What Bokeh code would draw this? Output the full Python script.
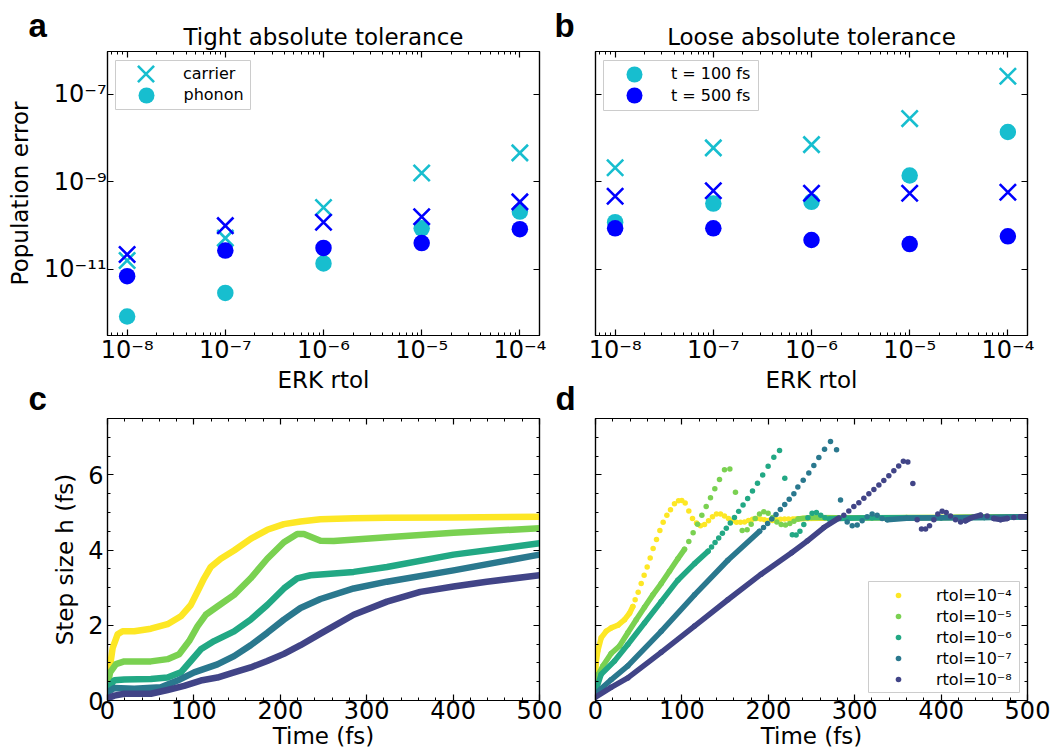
from bokeh.embed import file_html
from bokeh.layouts import column, row
from bokeh.models import (BoxAnnotation, CustomJSTickFormatter, FixedTicker, Legend,
                          LegendItem, LinearAxis, LogAxis, Range1d, SingleIntervalTicker, Title)
from bokeh.plotting import figure
from bokeh.resources import INLINE

# ------------------------------------------------------------------ data
RTOL = [1e-8, 1e-7, 1e-6, 1e-5, 1e-4]
RTOL_LABELS = ["10⁻⁸", "10⁻⁷", "10⁻⁶", "10⁻⁵", "10⁻⁴"]
ERROR_TICKS = [1e-11, 1e-9, 1e-7]
ERROR_LABELS = ["10⁻¹¹", "10⁻⁹", "10⁻⁷"]

# population error, tight absolute tolerance
TIGHT_CARRIER_100 = [1.6e-11, 5.2e-11, 2.6e-10, 1.6e-9, 4.6e-9]
TIGHT_PHONON_100 = [8.4e-13, 2.9e-12, 1.37e-11, 8.7e-11, 2.1e-10]
TIGHT_CARRIER_500 = [2.2e-11, 1.0e-10, 1.2e-10, 1.6e-10, 3.5e-10]
TIGHT_PHONON_500 = [7.0e-12, 2.7e-11, 3.1e-11, 4.0e-11, 8.3e-11]

# population error, loose absolute tolerance
LOOSE_CARRIER_100 = [2.1e-9, 6.0e-9, 7.1e-9, 2.8e-8, 2.6e-7]
LOOSE_PHONON_100 = [1.2e-10, 3.2e-10, 3.5e-10, 1.4e-9, 1.38e-8]
LOOSE_CARRIER_500 = [4.7e-10, 6.3e-10, 5.5e-10, 5.5e-10, 5.8e-10]
LOOSE_PHONON_500 = [8.7e-11, 8.7e-11, 4.7e-11, 3.8e-11, 5.7e-11]

STEP_LABELS = ["rtol=10⁻⁴", "rtol=10⁻⁵", "rtol=10⁻⁶", "rtol=10⁻⁷", "rtol=10⁻⁸"]

# step size h (fs) against time (fs), first integrator
C_T_4 = [0, 2.5, 6.0, 11.7, 17.5, 31.0, 50.2, 69.5, 84.9, 96.4, 104.1, 111.8, 119.5, 131.1,
         146.5, 165.7, 184.9, 204.2, 223.4, 246.5, 285.0, 323.5, 400.5, 500]
C_H_4 = [0.40, 0.85, 1.40, 1.76, 1.84, 1.84, 1.91, 2.03, 2.24, 2.54, 2.89, 3.25, 3.55, 3.77,
         3.99, 4.30, 4.54, 4.69, 4.76, 4.82, 4.85, 4.86, 4.87, 4.89]
C_T_5 = [0, 3.0, 9.8, 19.4, 50.2, 69.5, 82.9, 94.5, 104.1, 113.7, 127.2, 146.5, 165.7, 184.9,
         204.2, 219.6, 227.3, 246.5, 261.9, 323.5, 400.5, 500]
C_H_5 = [0.40, 0.75, 0.97, 1.04, 1.04, 1.10, 1.23, 1.58, 1.97, 2.28, 2.50, 2.81, 3.25, 3.77,
         4.21, 4.43, 4.43, 4.25, 4.24, 4.34, 4.46, 4.58]
C_T_6 = [0, 7.9, 19.4, 50.2, 69.5, 84.9, 96.4, 108.0, 123.4, 146.5, 165.7, 184.9, 204.2, 219.6,
         234.9, 246.5, 285.0, 323.5, 400.5, 500]
C_H_6 = [0.30, 0.54, 0.56, 0.57, 0.61, 0.75, 1.05, 1.36, 1.58, 1.84, 2.15, 2.54, 2.98, 3.25,
         3.33, 3.35, 3.42, 3.55, 3.88, 4.18]
C_T_7 = [0, 7.9, 31.0, 61.8, 81.0, 100.3, 127.2, 146.5, 165.7, 184.9, 204.2, 223.4, 246.5,
         285.0, 323.5, 400.5, 500]
C_H_7 = [0.22, 0.33, 0.31, 0.35, 0.53, 0.75, 0.96, 1.18, 1.47, 1.80, 2.15, 2.46, 2.70, 2.98,
         3.16, 3.46, 3.88]
C_T_8 = [0, 7.9, 19.4, 50.2, 69.5, 88.7, 108.0, 127.2, 146.5, 165.7, 184.9, 204.2, 223.4,
         246.5, 285.0, 323.5, 362.0, 400.5, 439.0, 500]
C_H_8 = [0.06, 0.13, 0.18, 0.18, 0.28, 0.39, 0.53, 0.61, 0.75, 0.88, 1.05, 1.24, 1.47, 1.78,
         2.28, 2.63, 2.89, 3.03, 3.16, 3.33]

# step size h (fs) against time (fs), second integrator
D_T_4 = [0, 0.8, 2.7, 6.6, 12.3, 18.1, 25.8, 33.6, 39.4, 43.2, 45.9, 49.4, 52.9, 56.3, 59.8,
         63.3, 66.7, 70.6, 74.5, 78.3, 82.6, 86.8, 91.4, 96.1, 99.9, 103.8, 108.0, 112.3, 116.9,
         121.5, 126.2, 130.8, 135.4, 140.0, 144.7, 149.3, 153.9, 158.6, 163.2, 167.8, 172.5,
         177.1, 181.7, 186.3, 191.0, 195.6, 200.2, 204.9, 209.5, 214.1, 218.8, 223.4, 228.0,
         240, 260, 280, 300, 350, 400, 450, 500]
D_H_4 = [0.44, 1.00, 1.32, 1.67, 1.84, 1.93, 2.00, 2.15, 2.32, 2.50, 2.68, 2.88, 3.11, 3.33,
         3.55, 3.79, 4.04, 4.28, 4.52, 4.74, 4.93, 5.07, 5.23, 5.31, 5.32, 5.25, 5.04, 4.84,
         4.72, 4.65, 4.68, 4.78, 4.89, 4.96, 4.96, 4.91, 4.84, 4.78, 4.74, 4.74, 4.75, 4.79,
         4.82, 4.84, 4.83, 4.81, 4.79, 4.79, 4.81, 4.82, 4.83, 4.83, 4.82, 4.84, 4.85, 4.85,
         4.86, 4.86, 4.87, 4.88, 4.89]
D_T_5 = [0, 3.5, 8.5, 18.1, 27.8, 37.4, 47.1, 56.7, 66.4, 76.0, 85.6, 95.3, 103.0, 108.0,
         113.0, 118.1, 123.1, 128.1, 133.1, 138.1, 143.5, 149.3, 155.5, 162.0, 169.8, 175.5,
         180.2, 184.8, 189.8, 194.8, 199.8, 204.9, 209.9, 214.9, 219.9, 224.9, 229.7, 234.5,
         250, 280, 320, 360, 400, 450, 500]
D_H_5 = [0.31, 0.70, 0.92, 1.25, 1.45, 1.80, 2.15, 2.48, 2.81, 3.11, 3.44, 3.77, 4.02, 4.23,
         4.46, 4.69, 4.93, 5.16, 5.39, 5.63, 5.88, 6.14, 6.16, 5.54, 4.52, 4.54, 4.69, 4.84,
         4.96, 5.02, 4.98, 4.87, 4.75, 4.68, 4.67, 4.71, 4.77, 4.83, 4.87, 4.86, 4.86, 4.87,
         4.87, 4.88, 4.89]
D_T_6 = [0, 6.6, 22.0, 37.4, 56.7, 76.0, 95.3, 114.6, 130.3, 134.3, 138.4, 142.6, 146.9, 151.4,
         156.0, 160.8, 165.7, 170.8, 176.1, 181.7, 187.5, 193.5, 199.8, 206.4, 213.0, 219.1,
         227.8, 232.2, 236.6, 241.1, 245.8, 250.7, 255.7, 260.7, 265.6, 270.5, 290, 320, 360,
         400, 450, 500]
D_H_6 = [0.22, 0.70, 1.05, 1.49, 2.06, 2.63, 3.20, 3.64, 3.97, 4.08, 4.20, 4.32, 4.45, 4.58,
         4.72, 4.87, 5.03, 5.20, 5.37, 5.57, 5.78, 6.00, 6.23, 6.47, 6.65, 5.91, 4.41, 4.40,
         4.50, 4.68, 4.86, 4.98, 5.00, 4.93, 4.86, 4.83, 4.85, 4.86, 4.86, 4.86, 4.87, 4.88]
D_T_7 = [0, 18.0, 37.4, 76.0, 114.6, 153.2, 189.9, 194.5, 199.2, 204.0, 208.9, 213.9, 219.0,
         224.2, 229.6, 234.2, 240.4, 246.9, 252.7, 258.5, 265.1, 272.0, 279.0, 283.6, 291.3,
         297.1, 302.9, 308.6, 314.4, 320.2, 326.0, 331.8, 337.6, 360, 400, 450, 500]
D_H_7 = [0.18, 0.55, 0.92, 1.84, 2.81, 3.73, 4.50, 4.60, 4.71, 4.83, 4.95, 5.08, 5.21, 5.35,
         5.50, 5.68, 5.86, 6.05, 6.25, 6.46, 6.68, 6.89, 6.67, 5.33, 4.75, 4.65, 4.67, 4.78,
         4.89, 4.96, 4.93, 4.84, 4.81, 4.85, 4.86, 4.87, 4.88]
D_T_8 = [0, 18.1, 37.4, 76.0, 114.6, 153.2, 191.7, 227.0, 245.0, 264.3, 281.5, 287.4, 293.2,
         299.0, 304.8, 310.6, 316.4, 322.2, 328.0, 333.7, 339.5, 345.3, 350.9, 356.3, 361.5,
         367.3, 372.3, 377.3, 382.0, 386.6, 391.6, 396.2, 401.2, 405.9, 410.9, 416.7, 422.5,
         428.2, 436.0, 445.6, 453.3, 461.0, 468.8, 476.5, 484.2, 491.9, 500]
D_H_8 = [0.09, 0.35, 0.60, 1.28, 1.98, 2.68, 3.36, 3.93, 4.24, 4.60, 4.85, 4.93, 5.04, 5.16,
         5.26, 5.38, 5.50, 5.61, 5.73, 5.85, 5.98, 6.11, 6.24, 6.36, 6.34, 5.77, 4.81, 4.56,
         4.56, 4.65, 4.81, 4.96, 5.03, 5.00, 4.91, 4.81, 4.75, 4.78, 4.87, 4.93, 4.91, 4.84,
         4.81, 4.84, 4.87, 4.89, 4.89]

# ------------------------------------------------------------------ style
FONT = "DejaVu Sans"
LETTER_FONT = "Liberation Sans"
CYAN = "#17becf"
BLUE = "#0000ff"
VIRIDIS = ["#fde725", "#7ad151", "#22a884", "#2a788e", "#414487"]

ERR_X = Range1d(10 ** -8.2, 10 ** -3.8)
ERR_Y = Range1d(10 ** -12.51, 10 ** -6.02)
TIME_X = Range1d(0, 500)
STEP_Y = Range1d(0, 7.5)


def make_panel(width, height, borders, x_range, y_range, log):
    left, right, top, bottom = borders
    kind = "log" if log else "linear"
    p = figure(width=width, height=height, x_range=x_range, y_range=y_range,
               x_axis_type=kind, y_axis_type=kind,
               output_backend="svg", toolbar_location=None,
               min_border_left=left, min_border_right=right,
               min_border_top=top, min_border_bottom=bottom)
    p.title.visible = False
    p.xgrid.visible = False
    p.ygrid.visible = False
    p.outline_line_color = "black"
    p.outline_line_width = 1.2
    p.background_fill_color = "white"
    p.border_fill_color = "white"
    return p


def style_axis(ax, ticker, show_labels, overrides=None, label=None,
               label_standoff=0, title_standoff=0):
    ax.ticker = ticker
    ax.axis_line_color = "black"
    ax.axis_line_width = 1.2
    ax.major_tick_in = 6
    ax.major_tick_out = 0
    ax.minor_tick_in = 3
    ax.minor_tick_out = 0
    ax.major_tick_line_color = "black"
    ax.minor_tick_line_color = "black"
    ax.major_tick_line_width = 1.2
    ax.minor_tick_line_width = 1
    if show_labels:
        ax.major_label_text_font = FONT
        ax.major_label_text_font_size = "24px"
        ax.major_label_text_color = "black"
        ax.major_label_standoff = label_standoff
        if overrides:
            ax.major_label_overrides = overrides
    else:
        ax.formatter = CustomJSTickFormatter(code="return ''")
        ax.major_label_text_font_size = "1px"
        ax.major_label_standoff = 0
    if label:
        ax.axis_label = label
        ax.axis_label_text_font = FONT
        ax.axis_label_text_font_size = "23px"
        ax.axis_label_text_font_style = "normal"
        ax.axis_label_text_color = "black"
        ax.axis_label_standoff = title_standoff


def add_headings(p, heading, letter, letter_offset):
    """Panel heading plus the bold panel letter, stacked above the frame."""
    # blank line that keeps the heading clear of the frame
    p.add_layout(Title(text=" ", text_font=FONT, text_font_size="4px", standoff=0,
                       text_color="black"), "above")
    p.add_layout(Title(text=heading, align="center", vertical_align="bottom", standoff=-10,
                       text_font=FONT, text_font_size="23px", text_font_style="normal",
                       text_color="black"), "above")
    p.add_layout(Title(text=letter, align="left", vertical_align="bottom", offset=letter_offset,
                       standoff=-35, text_font=LETTER_FONT, text_font_size="33px",
                       text_font_style="bold", text_color="black"), "above")


def add_lower_letter(p, letter, letter_offset):
    """Bold letter of the panel underneath, hung below this panel's axis title."""
    p.add_layout(Title(text=letter, align="left", vertical_align="bottom", offset=letter_offset,
                       standoff=-35, text_font=LETTER_FONT, text_font_size="33px",
                       text_font_style="bold", text_color="black"), "below")


def legend_frame(p, left, right, top, bottom):
    p.add_layout(BoxAnnotation(left=left, right=right, top=top, bottom=bottom,
                               left_units="screen", right_units="screen",
                               top_units="screen", bottom_units="screen",
                               fill_color="white", fill_alpha=0.8,
                               line_color="#cccccc", line_width=1, line_alpha=1))


def legend_row(p, text, renderer, center_x, center_y, label_x, glyph):
    """One legend entry whose symbol is centred at (center_x, center_y) in frame pixels."""
    p.add_layout(Legend(items=[LegendItem(label=text, renderers=[renderer])],
                        location=(center_x - glyph / 2, center_y - glyph / 2),
                        glyph_width=glyph, glyph_height=glyph,
                        padding=0, spacing=0, margin=0,
                        label_standoff=int(round(label_x - center_x - glyph / 2)),
                        border_line_color=None, background_fill_alpha=0,
                        label_text_font=FONT, label_text_font_size="16px",
                        label_text_color="black"))


def stretches(ts, hs):
    """Join listed steps into runs wherever the steps in between overlap."""
    xs, ys = [[ts[0]]], [[hs[0]]]
    for i in range(1, len(ts)):
        if ts[i] - ts[i - 1] > 1.6 * hs[i - 1]:
            xs[-1].append(ts[i])
            ys[-1].append(hs[i])
        else:
            xs.append([ts[i]])
            ys.append([hs[i]])
    return xs, ys


log_minor = [k * 10.0 ** e for e in range(-9, -3) for k in range(2, 10)]
rtol_overrides = dict(zip(RTOL, RTOL_LABELS))
error_overrides = dict(zip(ERROR_TICKS, ERROR_LABELS))


def error_axes(p, show_y):
    style_axis(p.xaxis[0], FixedTicker(ticks=RTOL, minor_ticks=log_minor), True,
               rtol_overrides, "ERK rtol", 0, 0)
    style_axis(p.yaxis[0], FixedTicker(ticks=ERROR_TICKS, minor_ticks=[]), show_y,
               error_overrides, "Population error" if show_y else None, 1, 8)
    top = LogAxis()
    right = LogAxis()
    p.add_layout(top, "above")
    p.add_layout(right, "right")
    style_axis(top, FixedTicker(ticks=RTOL, minor_ticks=log_minor), False)
    style_axis(right, FixedTicker(ticks=ERROR_TICKS, minor_ticks=[]), False)


def error_markers(p, carrier_100, phonon_100, carrier_500, phonon_500):
    r = {}
    r["c100"] = p.scatter(RTOL, carrier_100, marker="x", size=23, line_color=CYAN, line_width=2.6)
    r["p100"] = p.scatter(RTOL, phonon_100, marker="circle", size=16.5, fill_color=CYAN, line_color=None)
    r["c500"] = p.scatter(RTOL, carrier_500, marker="x", size=23, line_color=BLUE, line_width=2.6)
    r["p500"] = p.scatter(RTOL, phonon_500, marker="circle", size=16.5, fill_color=BLUE, line_color=None)
    return r


# ------------------------------------------------------------------ panel a
pa = make_panel(551, 418, (107, 12, 51, 83), ERR_X, ERR_Y, True)
error_axes(pa, True)
add_headings(pa, "Tight absolute tolerance", "a", -79)
add_lower_letter(pa, "c", -79)
ra = error_markers(pa, TIGHT_CARRIER_100, TIGHT_PHONON_100, TIGHT_CARRIER_500, TIGHT_PHONON_500)
legend_frame(pa, 8, 143, 275, 226)
legend_row(pa, "carrier", ra["c100"], 38.5, 262, 76, 57)
legend_row(pa, "phonon", ra["p100"], 38.5, 240.3, 76, 40)

# ------------------------------------------------------------------ panel b
pb = make_panel(502, 418, (44, 26, 51, 83), ERR_X, ERR_Y, True)
error_axes(pb, False)
add_headings(pb, "Loose absolute tolerance", "b", -41)
add_lower_letter(pb, "d", -40)
rb = error_markers(pb, LOOSE_CARRIER_100, LOOSE_PHONON_100, LOOSE_CARRIER_500, LOOSE_PHONON_500)
legend_frame(pb, 8, 163, 275, 225)
legend_row(pb, "t = 100 fs", rb["p100"], 38.9, 261.5, 76.3, 40)
legend_row(pb, "t = 500 fs", rb["p500"], 38.9, 240, 76.3, 40)


def time_axes(p, show_y):
    style_axis(p.xaxis[0], SingleIntervalTicker(interval=100, num_minor_ticks=5), True,
               None, "Time (fs)", 0, 1)
    style_axis(p.yaxis[0], SingleIntervalTicker(interval=2, num_minor_ticks=4), show_y,
               None, "Step size h (fs)" if show_y else None, 4, 7)
    top = LinearAxis()
    right = LinearAxis()
    p.add_layout(top, "above")
    p.add_layout(right, "right")
    style_axis(top, SingleIntervalTicker(interval=100, num_minor_ticks=5), False)
    style_axis(right, SingleIntervalTicker(interval=2, num_minor_ticks=4), False)


# ------------------------------------------------------------------ panel c
pc = make_panel(565, 338, (107, 26, 0, 56), TIME_X, STEP_Y, False)
time_axes(pc, True)
for ts, hs, color in zip([C_T_4, C_T_5, C_T_6, C_T_7, C_T_8],
                         [C_H_4, C_H_5, C_H_6, C_H_7, C_H_8], VIRIDIS):
    pc.line(ts, hs, line_color=color, line_width=6.5, line_join="round", line_cap="round")

# ------------------------------------------------------------------ panel d
pd = make_panel(488, 338, (30, 26, 0, 56), TIME_X, STEP_Y, False)
time_axes(pd, False)
dot_renderers = []
for ts, hs, color in zip([D_T_4, D_T_5, D_T_6, D_T_7, D_T_8],
                         [D_H_4, D_H_5, D_H_6, D_H_7, D_H_8], VIRIDIS):
    xs, ys = stretches(ts, hs)
    pd.multi_line(xs, ys, line_color=color, line_width=5.5, line_join="round", line_cap="round")
    dot_renderers.append(pd.scatter(ts, hs, marker="circle", size=5.5, fill_color=color, line_color=None))

legend_frame(pd, 273, 424, 119, 8)
pd.add_layout(Legend(items=[LegendItem(label=lab, renderers=[r])
                            for lab, r in zip(STEP_LABELS, dot_renderers)],
                     location=(296, 11), glyph_width=14, glyph_height=14, label_height=20,
                     padding=0, spacing=1, margin=0, label_standoff=31,
                     border_line_color=None, background_fill_alpha=0,
                     label_text_font=FONT, label_text_font_size="16px", label_text_color="black"))

layout = column(row(pa, pb), row(pc, pd))
open("out.html", "w").write(file_html(layout, INLINE))
